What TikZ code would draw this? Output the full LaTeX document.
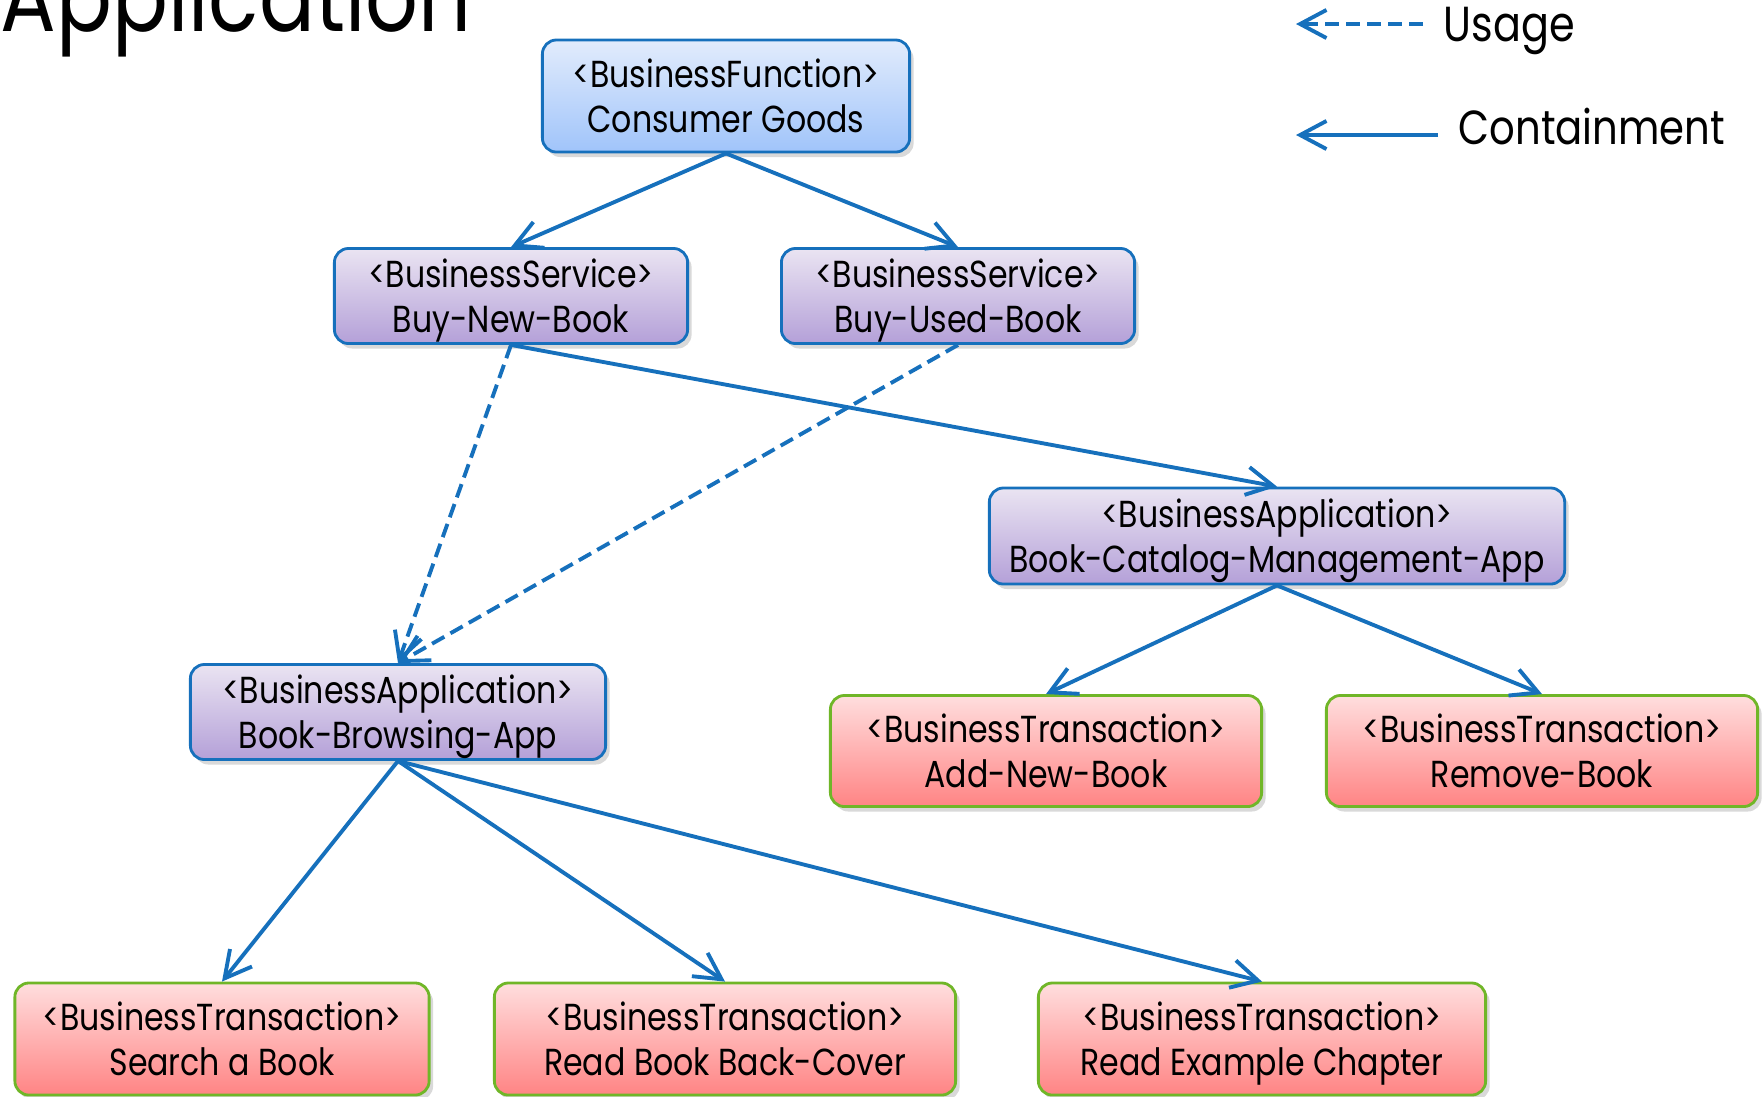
\documentclass[tikz,border=0pt]{standalone}
\usepackage{fontspec}
\setmainfont{Poppins}[FakeStretch=0.84]
\usetikzlibrary{arrows.meta, shadows}
\definecolor{linkblue}{RGB}{22,112,188}
\definecolor{rimgreen}{RGB}{112,182,40}
\definecolor{functop}{RGB}{226,236,252}
\definecolor{funcbot}{RGB}{160,196,250}
\definecolor{apptop}{RGB}{234,228,242}
\definecolor{appbot}{RGB}{180,160,216}
\definecolor{transtop}{RGB}{255,222,222}
\definecolor{transbot}{RGB}{255,132,132}

\begin{document}
\begin{tikzpicture}[x=0.01cm,y=-0.01cm]
					\tikzstyle{box} = [rounded corners=0.14cm,align=center,inner sep=0pt,text depth=0pt,line width=0.8pt,font=\fontsize{10.7}{12.8}\selectfont,drop shadow={shadow xshift=0.04cm,shadow yshift=-0.05cm,opacity=0.3}]
					\tikzstyle{func} = [box,draw=linkblue,top color=functop,bottom color=funcbot]
					\tikzstyle{app} = [box,draw=linkblue,top color=apptop,bottom color=appbot]
					\tikzstyle{trans} = [box,draw=rimgreen,top color=transtop,bottom color=transbot]
					\tikzstyle{contain} = [draw=linkblue,line width=1.1pt,-{Straight Barb[length=7.5pt,width=8pt]}]
					\tikzstyle{uses} = [contain,dash pattern=on 4pt off 2pt]
					\tikzstyle{legend} = [anchor=west,inner sep=0pt,font=\fontsize{14}{16}\selectfont]
					\useasboundingbox (0,0) rectangle (1764,1096);
					\node[anchor=base west,inner sep=0pt,font=\fontsize{28}{28}\selectfont] (title) at (0,31) {Application};
					\node[func,minimum width=3.67cm,minimum height=1.12cm] (cg) at (726,96) {<BusinessFunction>\\Consumer Goods};
					\node[app,minimum width=3.53cm,minimum height=0.95cm] (bnb) at (511,296) {<BusinessService>\\Buy-New-Book};
					\node[app,minimum width=3.53cm,minimum height=0.95cm] (bub) at (958,296) {<BusinessService>\\Buy-Used-Book};
					\node[app,minimum width=5.75cm,minimum height=0.96cm] (bcm) at (1277,536) {<BusinessApplication>\\Book-Catalog-Management-App};
					\node[app,minimum width=4.15cm,minimum height=0.95cm] (bba) at (398,712) {<BusinessApplication>\\Book-Browsing-App};
					\node[trans,minimum width=4.31cm,minimum height=1.11cm] (anb) at (1046,751) {<BusinessTransaction>\\Add-New-Book};
					\node[trans,minimum width=4.31cm,minimum height=1.11cm] (rb) at (1542,751) {<BusinessTransaction>\\Remove-Book};
					\node[trans,minimum width=4.14cm,minimum height=1.12cm] (sab) at (222,1039) {<BusinessTransaction>\\Search a Book};
					\node[trans,minimum width=4.61cm,minimum height=1.12cm] (rbc) at (725,1039) {<BusinessTransaction>\\Read Book Back-Cover};
					\node[trans,minimum width=4.47cm,minimum height=1.12cm] (rec) at (1262,1039) {<BusinessTransaction>\\Read Example Chapter};
					\draw[contain] (cg.south)--(bnb.north);
					\draw[contain] (cg.south)--(bub.north);
					\draw[contain] (bnb.south)--(bcm.north);
					\draw[uses] (bnb.south)--(bba.north);
					\draw[uses] (bub.south)--(bba.north);
					\draw[contain] (bcm.south)--(anb.north);
					\draw[contain] (bcm.south)--(rb.north);
					\draw[contain] (bba.south)--(sab.north);
					\draw[contain] (bba.south)--(rbc.north);
					\draw[contain] (bba.south)--(rec.north);
					% legend
					\coordinate (usetail) at (1423,24);
					\coordinate (usetip) at (1296,24);
					\coordinate (contail) at (1438,135);
					\coordinate (contip) at (1296,135);
					\draw[uses] (usetail)--(usetip);
					\draw[contain] (contail)--(contip);
					\node[legend] (usage) at (1443,31) {Usage};
					\node[legend,font=\fontsize{13.6}{16}\selectfont] (containment) at (1458,127) {Containment};
					\end{tikzpicture}
\end{document}
